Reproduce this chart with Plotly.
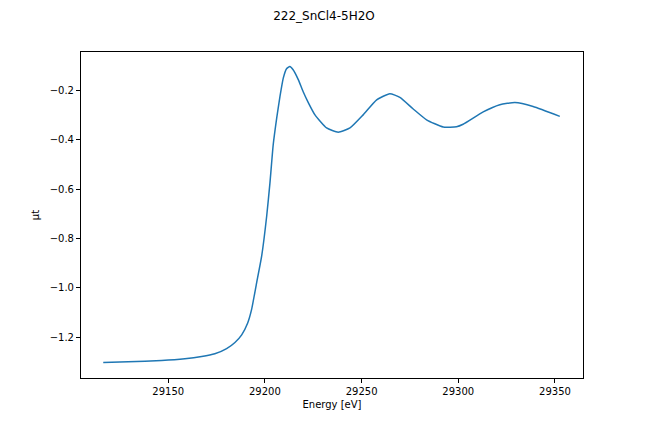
import plotly.graph_objects as go

# --- data (energy in eV, absorption mu*t) ---
energy = [29116.4, 29129.3, 29146.6, 29158.6, 29167.3, 29174.1, 29180.2,
          29184.5, 29188.0, 29191.1, 29193.1, 29195.7, 29198.3, 29200.9,
          29202.6, 29204.3, 29206.1, 29207.8, 29209.5, 29211.2, 29212.9,
          29214.6, 29217.2, 29219.8, 29222.5, 29225.9, 29231.9, 29237.9,
          29244.0, 29250.8, 29257.8, 29264.6, 29269.8, 29276.7, 29283.6,
          29292.2, 29299.1, 29302.5, 29312.9, 29321.5, 29329.3, 29338.7,
          29352.5]
mu = [-1.303, -1.300, -1.295, -1.288, -1.279, -1.268, -1.247,
      -1.222, -1.191, -1.143, -1.089, -0.981, -0.873, -0.711,
      -0.576, -0.420, -0.312, -0.224, -0.150, -0.112, -0.103,
      -0.116, -0.155, -0.205, -0.250, -0.299, -0.352, -0.369,
      -0.352, -0.299, -0.238, -0.213, -0.228, -0.275, -0.319,
      -0.348, -0.347, -0.337, -0.287, -0.258, -0.249, -0.265,
      -0.305]

x_ticks = [29150, 29200, 29250, 29300, 29350]
y_ticks = [-1.2, -1.0, -0.8, -0.6, -0.4, -0.2]

fig = go.Figure()
fig.add_trace(go.Scatter(
    x=energy, y=mu, mode="lines",
    line=dict(color="#1f77b4", width=1.5, shape="spline", smoothing=0.5),
    showlegend=False,
))

axis_style = dict(
    showline=True, linecolor="black", linewidth=1, mirror=True,
    ticks="outside", ticklen=4, tickcolor="black", showgrid=False,
    zeroline=False, tickfont=dict(size=10, color="black"),
)

fig.update_layout(
    width=648, height=432,
    margin=dict(l=81, r=65, t=52, b=54),
    paper_bgcolor="white", plot_bgcolor="white",
    font=dict(family="DejaVu Sans", color="black"),
    title=dict(text="222_SnCl4-5H2O", x=0.5, xanchor="center",
               y=1 - 16 / 432, yanchor="middle", font=dict(size=12)),
    xaxis=dict(axis_style, range=[29104.9, 29364.5], tickvals=x_ticks,
               tickformat="d",
               title=dict(text="Energy [eV]", font=dict(size=10), standoff=4)),
    yaxis=dict(axis_style, range=[-1.366, -0.044], tickvals=y_ticks,
               tickformat=".1f",
               title=dict(text="μt", font=dict(size=10), standoff=8)),
)

# page body has a default 8px margin; drop it so the figure sits at 0,0
fig.write_html("out.html", config={"displayModeBar": False},
               post_script="document.body.style.margin='0';")
